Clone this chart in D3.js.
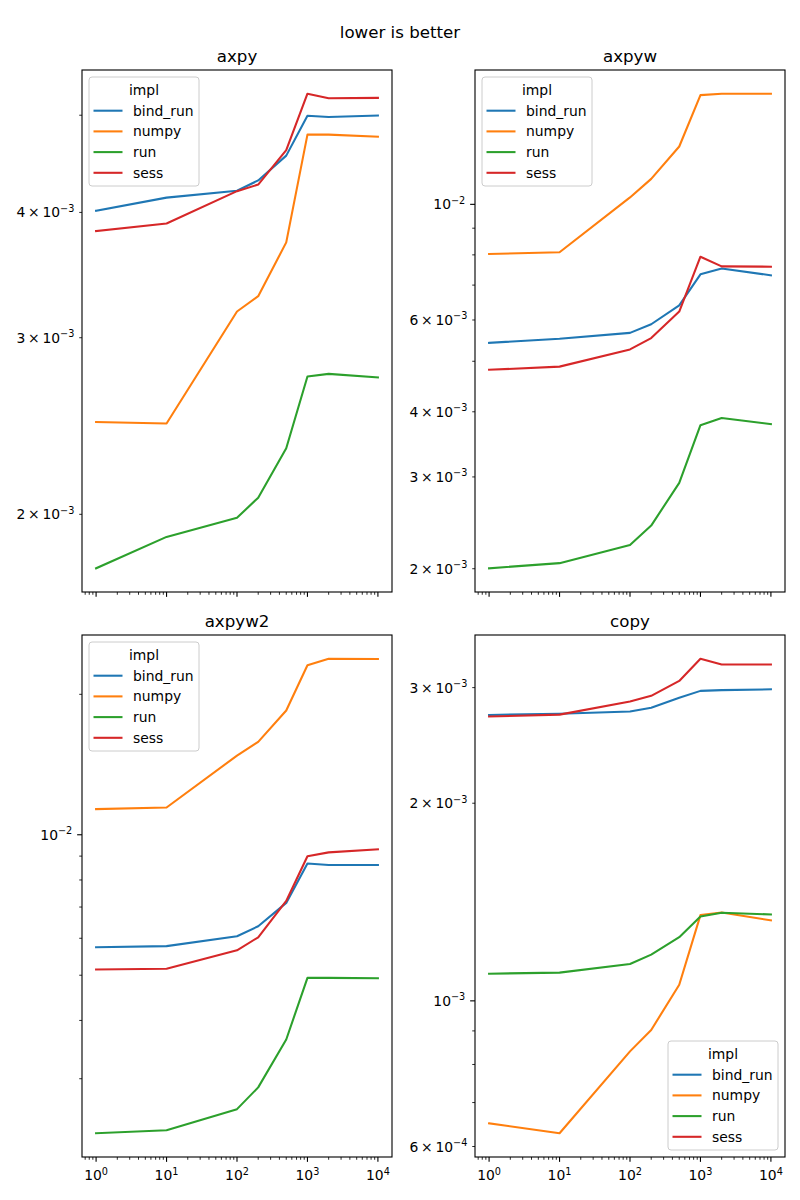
<!DOCTYPE html>
<html><head><meta charset="utf-8">
<script src="https://cdn.jsdelivr.net/npm/d3@7"></script>
<style>body{margin:0;background:#fff} svg{display:block}</style>
</head><body>
<svg id="fig" width="800" height="1200"></svg>
<script>
// ---------- data ----------
const sizes = [1, 10, 100, 200, 500, 1000, 2000, 10000];
const impls = ["bind_run", "numpy", "run", "sess"];
const implColors = ["#1f77b4", "#ff7f0e", "#2ca02c", "#d62728"];

const axpyBindRun = [4.016e-3, 4.138e-3, 4.204e-3, 4.305e-3, 4.557e-3, 4.994e-3, 4.980e-3, 4.997e-3];
const axpyNumpy   = [2.472e-3, 2.464e-3, 3.186e-3, 3.300e-3, 3.734e-3, 4.782e-3, 4.782e-3, 4.759e-3];
const axpyRun     = [1.767e-3, 1.899e-3, 1.984e-3, 2.078e-3, 2.328e-3, 2.744e-3, 2.761e-3, 2.739e-3];
const axpySess    = [3.833e-3, 3.900e-3, 4.200e-3, 4.264e-3, 4.615e-3, 5.253e-3, 5.199e-3, 5.203e-3];

const axpywBindRun = [5.423e-3, 5.524e-3, 5.668e-3, 5.888e-3, 6.402e-3, 7.342e-3, 7.535e-3, 7.309e-3];
const axpywNumpy   = [8.032e-3, 8.093e-3, 1.031e-2, 1.119e-2, 1.291e-2, 1.620e-2, 1.630e-2, 1.630e-2];
const axpywRun     = [2.004e-3, 2.050e-3, 2.220e-3, 2.420e-3, 2.923e-3, 3.770e-3, 3.892e-3, 3.787e-3];
const axpywSess    = [4.816e-3, 4.883e-3, 5.269e-3, 5.540e-3, 6.229e-3, 7.934e-3, 7.604e-3, 7.592e-3];

const axpyw2BindRun = [5.740e-3, 5.772e-3, 6.062e-3, 6.367e-3, 7.145e-3, 8.680e-3, 8.614e-3, 8.614e-3];
const axpyw2Numpy   = [1.135e-2, 1.144e-2, 1.478e-2, 1.582e-2, 1.847e-2, 2.309e-2, 2.384e-2, 2.380e-2];
const axpyw2Run     = [2.292e-3, 2.327e-3, 2.582e-3, 2.875e-3, 3.641e-3, 4.935e-3, 4.935e-3, 4.925e-3];
const axpyw2Sess    = [5.144e-3, 5.164e-3, 5.654e-3, 6.029e-3, 7.213e-3, 8.996e-3, 9.168e-3, 9.307e-3];

const copyBindRun = [2.726e-3, 2.737e-3, 2.759e-3, 2.796e-3, 2.895e-3, 2.966e-3, 2.974e-3, 2.982e-3];
const copyNumpy   = [6.508e-4, 6.285e-4, 8.376e-4, 9.030e-4, 1.058e-3, 1.351e-3, 1.363e-3, 1.326e-3];
const copyRun     = [1.100e-3, 1.104e-3, 1.138e-3, 1.176e-3, 1.250e-3, 1.344e-3, 1.362e-3, 1.354e-3];
const copySess    = [2.711e-3, 2.729e-3, 2.857e-3, 2.915e-3, 3.071e-3, 3.320e-3, 3.254e-3, 3.254e-3];

const xMajorTicks = [1, 10, 100, 1000, 10000];
const axpyYTicks = [2e-3, 3e-3, 4e-3, 5e-3];
const axpyYLabeled = [2e-3, 3e-3, 4e-3];
const axpywYTicks = [2e-3, 3e-3, 4e-3, 5e-3, 6e-3, 7e-3, 8e-3, 9e-3, 1e-2];
const axpywYLabeled = [2e-3, 3e-3, 4e-3, 6e-3, 1e-2];
const axpyw2YTicks = [3e-3, 4e-3, 5e-3, 6e-3, 7e-3, 8e-3, 9e-3, 1e-2, 2e-2];
const axpyw2YLabeled = [1e-2];
const copyYTicks = [6e-4, 7e-4, 8e-4, 9e-4, 1e-3, 2e-3, 3e-3];
const copyYLabeled = [6e-4, 1e-3, 2e-3, 3e-3];

const suptitle = "lower is better";

// ---------- layout ----------
const panels = [
  {title: "axpy",   series: [axpyBindRun, axpyNumpy, axpyRun, axpySess],         ticks: axpyYTicks,   labeled: axpyYLabeled,   col: 0, row: 0, legend: "ul"},
  {title: "axpyw",  series: [axpywBindRun, axpywNumpy, axpywRun, axpywSess],     ticks: axpywYTicks,  labeled: axpywYLabeled,  col: 1, row: 0, legend: "ul"},
  {title: "axpyw2", series: [axpyw2BindRun, axpyw2Numpy, axpyw2Run, axpyw2Sess], ticks: axpyw2YTicks, labeled: axpyw2YLabeled, col: 0, row: 1, legend: "ul"},
  {title: "copy",   series: [copyBindRun, copyNumpy, copyRun, copySess],         ticks: copyYTicks,   labeled: copyYLabeled,   col: 1, row: 1, legend: "lr"}
];
const colLeft = [82, 475], rowTop = [70, 635];
const W = 310, H = 522;
const FONT = "DejaVu Sans, Liberation Sans, sans-serif";
const svg = d3.select("#fig");

svg.append("text").attr("x", 400).attr("y", 38).attr("text-anchor", "middle")
  .attr("font-family", FONT).attr("font-size", 16.67).attr("fill", "#000").text(suptitle);

function addMath(textSel, v) {
  const e = Math.floor(Math.log10(v) + 1e-9);
  const m = Math.round(v / Math.pow(10, e));
  const expStr = (e < 0 ? "\u2212" : "") + Math.abs(e);
  if (m === 1) {
    textSel.append("tspan").text("10");
  } else {
    textSel.append("tspan").text(m + "\u2009\u00d7\u200910");
  }
  textSel.append("tspan").attr("font-size", 9.7).attr("dy", -5.5).text(expStr);
}

// x minor ticks
const xMinor = [];
[0.1, 1, 10, 100, 1000].forEach(d => { for (let k = 2; k <= 9; k++) xMinor.push(d * k); });

panels.forEach(p => {
  const left = colLeft[p.col], top = rowTop[p.row];
  const g = svg.append("g").attr("transform", `translate(${left},${top})`);
  const lx0 = Math.log10(1), lx1 = Math.log10(10000), mx = (lx1 - lx0) * 0.05;
  const x = d3.scaleLog().domain([Math.pow(10, lx0 - mx), Math.pow(10, lx1 + mx)]).range([0, W]);
  const all = p.series.flat();
  const ly0 = Math.log10(d3.min(all)), ly1 = Math.log10(d3.max(all)), my = (ly1 - ly0) * 0.05;
  const y = d3.scaleLog().domain([Math.pow(10, ly0 - my), Math.pow(10, ly1 + my)]).range([H, 0]);

  // lines
  const line = d3.line().x((d, i) => x(sizes[i])).y(d => y(d));
  p.series.forEach((s, i) => {
    g.append("path").datum(s).attr("d", line).attr("fill", "none")
      .attr("stroke", implColors[i]).attr("stroke-width", 2.08)
      .attr("stroke-linejoin", "round").attr("stroke-linecap", "square");
  });

  // x ticks
  const [xd0, xd1] = x.domain();
  xMinor.filter(v => v > xd0 && v < xd1).forEach(v => {
    g.append("line").attr("x1", x(v)).attr("x2", x(v)).attr("y1", H).attr("y2", H + 2.78)
      .attr("stroke", "#000").attr("stroke-width", 0.83);
  });
  xMajorTicks.forEach((v, i) => {
    g.append("line").attr("x1", x(v)).attr("x2", x(v)).attr("y1", H).attr("y2", H + 4.86)
      .attr("stroke", "#000").attr("stroke-width", 1.11);
    if (p.row === 1) {
      const t = g.append("text").attr("x", x(v)).attr("y", H + 23).attr("text-anchor", "middle")
        .attr("font-family", FONT).attr("font-size", 13.9).attr("fill", "#000");
      t.append("tspan").text("10");
      t.append("tspan").attr("font-size", 9.7).attr("dy", -5.5).text(String(i));
    }
  });

  // y ticks
  const isMajor = v => Math.abs(Math.log10(v) - Math.round(Math.log10(v))) < 1e-9;
  p.ticks.forEach(v => {
    const len = isMajor(v) ? 4.86 : 2.78;
    g.append("line").attr("x1", -len).attr("x2", 0).attr("y1", y(v)).attr("y2", y(v))
      .attr("stroke", "#000").attr("stroke-width", isMajor(v) ? 1.11 : 0.83);
  });
  p.labeled.forEach(v => {
    const len = isMajor(v) ? 4.86 : 2.78;
    const t = g.append("text").attr("x", -len - 4.86).attr("y", y(v) + 5)
      .attr("text-anchor", "end").attr("font-family", FONT).attr("font-size", 13.9).attr("fill", "#000");
    addMath(t, v);
  });

  // frame
  g.append("rect").attr("x", 0).attr("y", 0).attr("width", W).attr("height", H)
    .attr("fill", "none").attr("stroke", "#000").attr("stroke-width", 1.11);

  // title
  g.append("text").attr("x", W / 2).attr("y", -8.3).attr("text-anchor", "middle")
    .attr("font-family", FONT).attr("font-size", 16.67).attr("fill", "#000").text(p.title);

  // legend
  const LW = 110, LH = 109;
  const lxp = p.legend === "ul" ? 7 : W - 7 - LW;
  const lyp = p.legend === "ul" ? 7 : H - 7 - LH;
  const lg = g.append("g").attr("transform", `translate(${lxp},${lyp})`);
  lg.append("rect").attr("x", 0).attr("y", 0).attr("width", LW).attr("height", LH)
    .attr("rx", 3).attr("ry", 3).attr("fill", "#fff").attr("fill-opacity", 0.8)
    .attr("stroke", "#cccccc").attr("stroke-width", 1);
  lg.append("text").attr("x", LW / 2).attr("y", 17.5).attr("text-anchor", "middle")
    .attr("font-family", FONT).attr("font-size", 13.9).attr("fill", "#000").text("impl");
  impls.forEach((name, i) => {
    const cy = 33.7 + i * 20.7;
    lg.append("line").attr("x1", 4.5).attr("x2", 33.5).attr("y1", cy).attr("y2", cy)
      .attr("stroke", implColors[i]).attr("stroke-width", 2.08);
    lg.append("text").attr("x", 44).attr("y", cy + 5).attr("font-family", FONT)
      .attr("font-size", 13.9).attr("fill", "#000").text(name);
  });
});
</script>
</body></html>
